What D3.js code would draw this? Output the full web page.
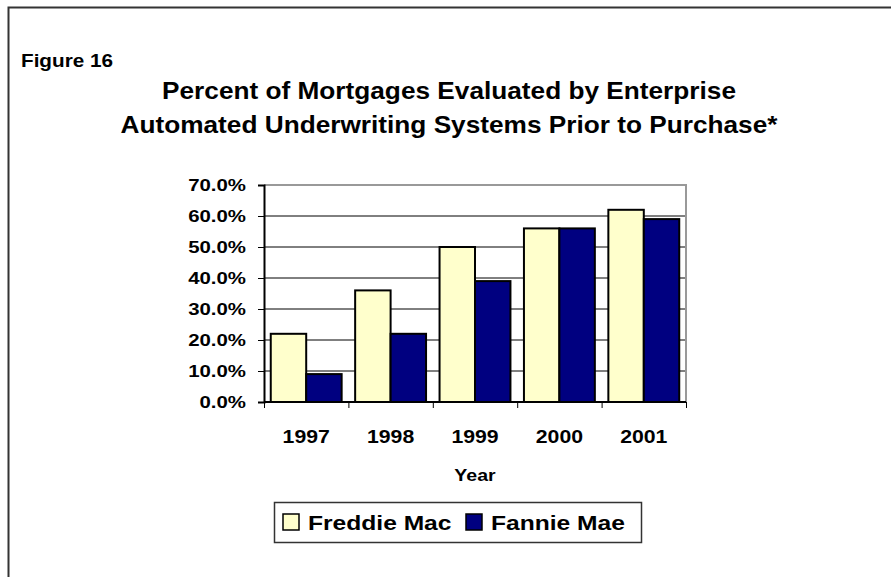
<!DOCTYPE html>
<html><head><meta charset="utf-8">
<script src="https://cdn.jsdelivr.net/npm/d3@7"></script>
<style>body{margin:0;background:#fff}svg{display:block}text{font-family:"Liberation Sans",Arial,sans-serif;font-weight:bold;fill:#000}</style>
</head><body><svg id="c" width="891" height="577"></svg>
<script>
const years = ["1997","1998","1999","2000","2001"];
const seriesNames = ["Freddie Mac","Fannie Mae"];
const freddieMac = [22,36,50,56,62];
const fannieMae = [9,22,39,56,59];
const yTicks = [0,10,20,30,40,50,60,70];
const colors = ["#FFFFCC","#000080"];

const svg = d3.select("#c");
function txt(x,y,s,size,anchor,sx){
  const g = svg.append("g").attr("transform",`translate(${x},${y}) scale(${sx||1.18},1)`);
  g.append("text").attr("text-anchor",anchor||"start").attr("font-size",size).text(s);
  return g;
}
// outer border
svg.append("rect").attr("x",8.5).attr("y",7.5).attr("width",1000).attr("height",1000)
  .attr("fill","none").attr("stroke","#333").attr("stroke-width",2);

txt(21,67,"Figure 16",18,"start",1.15);
txt(449,99,"Percent of Mortgages Evaluated by Enterprise",23,"middle",1.14);
txt(449,133,"Automated Underwriting Systems Prior to Purchase*",23,"middle",1.14);

const L=264,R=686,T=185,B=402;
const x0 = d3.scaleBand().domain(years).range([L,R]).padding(0);
const pad = x0.bandwidth()*0.08;
const x1 = d3.scaleBand().domain(seriesNames).range([pad,x0.bandwidth()-pad]).padding(0);
const y = d3.scaleLinear().domain([0,70]).range([B,T]);

// gridlines
svg.append("g").selectAll("line").data(yTicks.filter(d=>d>0&&d<70)).join("line")
  .attr("x1",L).attr("x2",R).attr("y1",d=>y(d)).attr("y2",d=>y(d)).attr("stroke","#000").attr("stroke-width",1);
// plot top & right border
svg.append("path").attr("d",`M${L},${y(70)}H${R}V${B}`).attr("fill","none").attr("stroke","#999").attr("stroke-width",2);

// bars
const data = years.map((yr,i)=>({yr, vals:[freddieMac[i],fannieMae[i]]}));
const grp = svg.append("g").selectAll("g").data(data).join("g").attr("transform",d=>`translate(${x0(d.yr)},0)`);
grp.selectAll("rect").data(d=>d.vals.map((v,j)=>({v,j}))).join("rect")
  .attr("x",d=>x1(seriesNames[d.j])).attr("width",x1.bandwidth())
  .attr("y",d=>y(d.v)).attr("height",d=>B-y(d.v))
  .attr("fill",d=>colors[d.j]).attr("stroke","#000").attr("stroke-width",2);

// axes
const yAx = svg.append("g").attr("transform",`translate(${L},0)`)
  .call(d3.axisLeft(y).tickValues(yTicks).tickSize(6).tickFormat(""));
yAx.select(".domain").attr("stroke","#000").attr("stroke-width",2);
yAx.selectAll(".tick line").attr("stroke","#000");
yTicks.forEach(t=>txt(246,y(t)+6,d3.format(".1f")(t)+"%",17,"end",1.2));

const xAx = svg.append("g").attr("transform",`translate(0,${B})`)
  .call(d3.axisBottom(d3.scaleLinear().domain([0,5]).range([L,R])).tickValues([0,1,2,3,4,5]).tickSize(6).tickFormat(""));
xAx.select(".domain").attr("stroke","#000").attr("stroke-width",2).attr("d",`M${L},0H${R}`);
xAx.selectAll(".tick line").attr("stroke","#000");
years.forEach(yr=>txt(x0(yr)+x0.bandwidth()/2,443,yr,18,"middle",1.18));
txt((L+R)/2,481,"Year",17,"middle",1.15);

// legend
svg.append("rect").attr("x",274.5).attr("y",502.5).attr("width",367).attr("height",40)
  .attr("fill","#fff").attr("stroke","#333").attr("stroke-width",1.5);
const legX=[283,466];
seriesNames.forEach((s,i)=>{
  svg.append("rect").attr("x",legX[i]).attr("y",514).attr("width",16).attr("height",16)
    .attr("fill",colors[i]).attr("stroke","#000").attr("stroke-width",1.5);
  txt(legX[i]+25,530,s,20,"start",1.23);
});
</script></body></html>
